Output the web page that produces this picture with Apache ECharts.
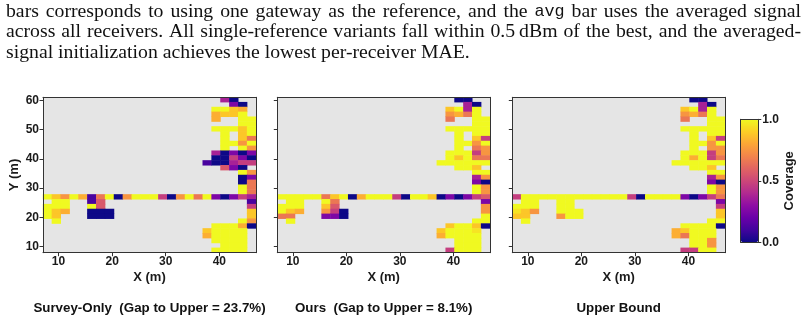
<!DOCTYPE html>
<html><head><meta charset="utf-8">
<script src="https://cdn.jsdelivr.net/npm/echarts@6/dist/echarts.min.js"></script>
<style>html,body{margin:0;padding:0;background:#fff}#c{width:807px;height:321px}</style>
</head><body><div id="c"></div>
<script>
// ---------------- data ----------------
// coverage levels read from the plasma colours of the cells ('.' = no data)
const LEVELS = { N: 0.0, i: 0.12, u: 0.25, M: 0.37, p: 0.47, P: 0.56, o: 0.66, O: 0.75, g: 0.82, G: 0.88, y: 0.95, Y: 1.0 };
// 32 rows (top -> bottom) x 24 columns (left -> right), groups of 6 columns
const surveyOnly = [
  '...... ...... ...... ..MN..',
  '...... ...... ...... ...uN.',
  '...... ...... ...... .YYGg.',
  '...... ...... ...... .gGGY.',
  '...... ...... ...... .g..YY',
  '...... ...... ...... ....YY',
  '...... ...... ...... .YYYGY',
  '...... ...... ...... ..Y.GY',
  '...... ...... ...... ..Y.Go',
  '...... ...... ...... ..YYOY',
  '...... ...... ...... ..Y.YO',
  '...... ...... ...... .MNuNu',
  '...... ...... ...... .NNpuN',
  '...... ...... ...... iNNMpp',
  '...... ...... ...... ..PuN.',
  '...... ...... ...... ....YO',
  '...... ...... ...... ....Nu',
  '...... ...... ...... ....No',
  '...... ...... ...... ....Yo',
  '...... ...... ...... ....Yo',
  'YGOYgi oYNOYY YpNOYo YuNupM',
  '.YY..i P..... ...... .....i',
  'YYY..Y P..... ...... .....p',
  'YGg..N NN.... ...... .....G',
  'YG...N NN.... ...... .....G',
  '.Y.... ...... ...... ....YO',
  '...... ...... ...... .YYYgN',
  '...... ...... ...... GYYYY.',
  '...... ...... ...... gYYYY.',
  '...... ...... ...... .YYYY.',
  '...... ...... ...... ..YYY.',
  '...... ...... ...... .YYYY.'
];
const ours = [
  '...... ...... ...... ..NN..',
  '...... ...... ...... ...MN.',
  '...... ...... ...... .GYMY.',
  '...... ...... ...... .OgoY.',
  '...... ...... ...... .o..YY',
  '...... ...... ...... ....YY',
  '...... ...... ...... .YYYYY',
  '...... ...... ...... ..Y.YY',
  '...... ...... ...... ..Y.Gp',
  '...... ...... ...... ..YYOY',
  '...... ...... ...... ..Y.oO',
  '...... ...... ...... .YYYpO',
  '...... ...... ...... .YGYoo',
  '...... ...... ...... YYYYYY',
  '...... ...... ...... ..YYG.',
  '...... ...... ...... ....YY',
  '...... ...... ...... ....MO',
  '...... ...... ...... ....uN',
  '...... ...... ...... ....YO',
  '...... ...... ...... ....YO',
  'YYYYYo GYNgYY YpNYYG NuNupP',
  '.YY..Y o..... ...... .....u',
  'YYY..G P..... ...... .....O',
  'YGg..O pN.... ...... .....O',
  'oo...u uN.... ...... .....Y',
  '.Y.... ...... ...... ....YY',
  '...... ...... ...... .GYYGN',
  '...... ...... ...... GYYYy.',
  '...... ...... ...... gYYYY.',
  '...... ...... ...... ..YYY.',
  '...... ...... ...... ..YYY.',
  '...... ...... ...... .pYYY.'
];
const upperBound = [
  '...... ...... ...... ..NN..',
  '...... ...... ...... ...MN.',
  '...... ...... ...... .GYMY.',
  '...... ...... ...... .OgoY.',
  '...... ...... ...... .o..YY',
  '...... ...... ...... ....YY',
  '...... ...... ...... .YYYYY',
  '...... ...... ...... ..Y.YY',
  '...... ...... ...... ..Y.Gp',
  '...... ...... ...... ..YYOY',
  '...... ...... ...... ..Y.OO',
  '...... ...... ...... .YYYpO',
  '...... ...... ...... .YgYpo',
  '...... ...... ...... YYYYYY',
  '...... ...... ...... ..YYG.',
  '...... ...... ...... ....YY',
  '...... ...... ...... ....MO',
  '...... ...... ...... ....uN',
  '...... ...... ...... ....YO',
  '...... ...... ...... ....YO',
  'pYYYYY YYYYYY YpNYYY YuNupo',
  '.YY..Y Y..... ...... .....u',
  'YYY..Y Y..... ...... .....p',
  'yGO..Y YY.... ...... .....G',
  'GG...O YY.... ...... .....G',
  '.Y.... ...... ...... ....YY',
  '...... ...... ...... .YYYYN',
  '...... ...... ...... gGYYY.',
  '...... ...... ...... goYYY.',
  '...... ...... ...... ..YYO.',
  '...... ...... ...... ..YYO.',
  '...... ...... ...... .ppYY.'
];
const xRange = [7.1, 46.84];     // metres spanned by the 24 columns
const yRange = [7.95, 61.0];     // metres spanned by the 32 rows
const xTicks = [10, 20, 30, 40];
const yTicks = [10, 20, 30, 40, 50, 60];
const cbRange = [0, 1];
const panelTitles = ['Survey-Only  (Gap to Upper = 23.7%)', 'Ours  (Gap to Upper = 8.1%)', 'Upper Bound'];
const paraLines = [
  'bars corresponds to using one gateway as the reference, and the `avg` bar uses the averaged signal',
  'across all receivers. All single-reference variants fall within 0.5\u2009dBm of the best, and the averaged-',
  'signal initialization achieves the lowest per-receiver MAE.'
];
const paraJustify = [true, true, false];

// ---------------- styling / layout ----------------
const PLASMA = ['#0d0887','#41049d','#6a00a8','#8f0da4','#b12a90','#cc4778','#e16462','#f2844b','#fca636','#fcce25','#f0f921'];
const FRAME = '#333333';
const TXT = '#1a1a1a';
const SANS = '"Liberation Sans", Arial, sans-serif';
const GRID_TOP = 97.3, GRID_H = 155.4;
const panelLayout = [ {left: 43, width: 213}, {left: 277.3, width: 212.7}, {left: 512.3, width: 212.7} ];
const panelData = [surveyOnly, ours, upperBound];

function toCells(rows) {
  const out = [];
  rows.forEach((row, r) => {
    const s = row.replace(/ /g, '');
    for (let c = 0; c < s.length; c++) {
      const ch = s[c];
      if (ch !== '.') out.push([c, r, LEVELS[ch]]);
    }
  });
  return out;
}
const nCols = surveyOnly[0].replace(/ /g, '').length;
const nRows = surveyOnly.length;
const colCats = Array.from({length: nCols}, (_, i) => String(i));
const rowCats = Array.from({length: nRows}, (_, i) => String(i));

const grids = [], xAxes = [], yAxes = [], series = [];
const lineStyle = {color: FRAME, width: 1};
panelLayout.forEach((pl, i) => {
  grids.push({left: pl.left, top: GRID_TOP, width: pl.width, height: GRID_H, show: true,
    backgroundColor: '#e5e5e5', borderWidth: 0, containLabel: false});
  // category axes carry the cells, and draw the top/right frame
  xAxes.push({type: 'category', gridIndex: i, data: colCats, position: 'top', boundaryGap: true, z: 5,
    axisLine: {show: true, lineStyle}, axisTick: {show: false}, axisLabel: {show: false}, splitLine: {show: false}});
  // value axes show the metre scale, and draw the bottom/left frame
  xAxes.push({type: 'value', gridIndex: i, min: xRange[0], max: xRange[1], position: 'bottom', z: 5,
    axisLine: {show: true, onZero: false, lineStyle},
    axisTick: {show: true, length: 3.5, customValues: xTicks, lineStyle},
    axisLabel: {show: true, customValues: xTicks, color: TXT, fontWeight: 'bold', fontSize: 12, fontFamily: SANS, margin: 3},
    splitLine: {show: false},
    name: 'X (m)', nameLocation: 'middle', nameGap: 18,
    nameTextStyle: {color: TXT, fontWeight: 'bold', fontSize: 13, fontFamily: SANS}});
  yAxes.push({type: 'category', gridIndex: i, data: rowCats, inverse: true, position: 'right', boundaryGap: true, z: 5,
    axisLine: {show: true, lineStyle}, axisTick: {show: false}, axisLabel: {show: false}, splitLine: {show: false}});
  yAxes.push({type: 'value', gridIndex: i, min: yRange[0], max: yRange[1], position: 'left', z: 5,
    axisLine: {show: true, onZero: false, lineStyle},
    axisTick: {show: true, length: 3.5, customValues: yTicks, lineStyle},
    axisLabel: {show: i === 0, customValues: yTicks, color: TXT, fontWeight: 'bold', fontSize: 12, fontFamily: SANS, margin: 4},
    splitLine: {show: false},
    name: i === 0 ? 'Y (m)' : '', nameLocation: 'middle', nameGap: 22, nameRotate: 90,
    nameTextStyle: {color: TXT, fontWeight: 'bold', fontSize: 13, fontFamily: SANS}});
  series.push({type: 'heatmap', xAxisIndex: 2 * i, yAxisIndex: 2 * i, data: toCells(panelData[i]),
    itemStyle: {borderWidth: 0}, emphasis: {disabled: true}, progressive: 0, animation: false});
});

// colour bar frame + ticks
const CB = {left: 740.7, top: 119.3, width: 17.6, height: 123};
grids.push({left: CB.left, top: CB.top, width: CB.width, height: CB.height, show: false, containLabel: false});
xAxes.push({type: 'category', gridIndex: 3, data: [''], position: 'bottom', z: 6,
  axisLine: {show: true, lineStyle}, axisTick: {show: false}, axisLabel: {show: false}});
xAxes.push({type: 'category', gridIndex: 3, data: [''], position: 'top', z: 6,
  axisLine: {show: true, lineStyle}, axisTick: {show: false}, axisLabel: {show: false}});
yAxes.push({type: 'category', gridIndex: 3, data: [''], position: 'left', z: 6,
  axisLine: {show: true, lineStyle}, axisTick: {show: false}, axisLabel: {show: false}});
yAxes.push({type: 'value', gridIndex: 3, min: cbRange[0], max: cbRange[1], interval: 0.5, position: 'right', z: 6,
  axisLine: {show: true, onZero: false, lineStyle},
  axisTick: {show: true, length: 3, lineStyle},
  axisLabel: {show: true, color: TXT, fontWeight: 'bold', fontSize: 12, fontFamily: SANS, margin: 4,
    formatter: v => v.toFixed(1)},
  splitLine: {show: false},
  name: 'Coverage', nameLocation: 'middle', nameGap: 23, nameRotate: 90,
  nameTextStyle: {color: TXT, fontWeight: 'bold', fontSize: 13, fontFamily: SANS}});

// ---------------- text (paragraph and sub-captions) ----------------
const mctx = document.createElement('canvas').getContext('2d');
function textW(t, font) { mctx.font = font; return mctx.measureText(t).width; }
const serifAt = s => s + 'px "Liberation Serif", "Times New Roman", serif';
const PARA_L = 6, PARA_R = 801, LINE3_W = 464;
const pSize = 18 * LINE3_W / textW(paraLines[2], serifAt(18));
const SERIF = serifAt(pSize);
const MONO = (pSize * 0.85) + 'px "Liberation Mono", "DejaVu Sans Mono", monospace';
const paraY = [11.5, 32, 52.5];
const graphics = [];
paraLines.forEach((line, li) => {
  const words = line.split(' ').map(w => {
    const mono = /^`.*`$/.test(w);
    return {t: mono ? w.slice(1, -1) : w, font: mono ? MONO : SERIF};
  });
  const widths = words.map(w => textW(w.t, w.font));
  const total = widths.reduce((a, b) => a + b, 0);
  const gap = paraJustify[li] ? (PARA_R - PARA_L - total) / (words.length - 1) : textW(' ', SERIF);
  let x = PARA_L;
  words.forEach((w, k) => {
    graphics.push({type: 'text', x: x, y: paraY[li], silent: true,
      style: {text: w.t, font: w.font, fill: '#111', align: 'left', verticalAlign: 'middle'}});
    x += widths[k] + gap;
  });
});
// sub-captions: centred under each panel, bold sans, fitted to the reference width of the first one
const TITLE_BASE = 13.5;
const titleSize = TITLE_BASE * 232.4 / textW(panelTitles[0], 'bold ' + TITLE_BASE + 'px ' + SANS);
const TITLE_FONT = 'bold ' + titleSize + 'px ' + SANS;
panelLayout.forEach((pl, i) => {
  graphics.push({type: 'text', x: pl.left + pl.width / 2, y: 308.8, silent: true,
    style: {text: panelTitles[i], font: TITLE_FONT, fill: '#111', align: 'center', verticalAlign: 'middle'}});
});

const chart = echarts.init(document.getElementById('c'), null, {renderer: 'canvas', width: 807, height: 321});
chart.setOption({
  animation: false,
  backgroundColor: '#ffffff',
  grid: grids, xAxis: xAxes, yAxis: yAxes, series: series,
  visualMap: {type: 'continuous', min: cbRange[0], max: cbRange[1], show: true, calculable: false,
    orient: 'vertical', left: CB.left, top: CB.top, itemWidth: CB.width, itemHeight: CB.height,
    padding: 0, hoverLink: false, seriesIndex: [0, 1, 2], inRange: {color: PLASMA}, z: 4},
  graphic: graphics
});
</script>
</body></html>
